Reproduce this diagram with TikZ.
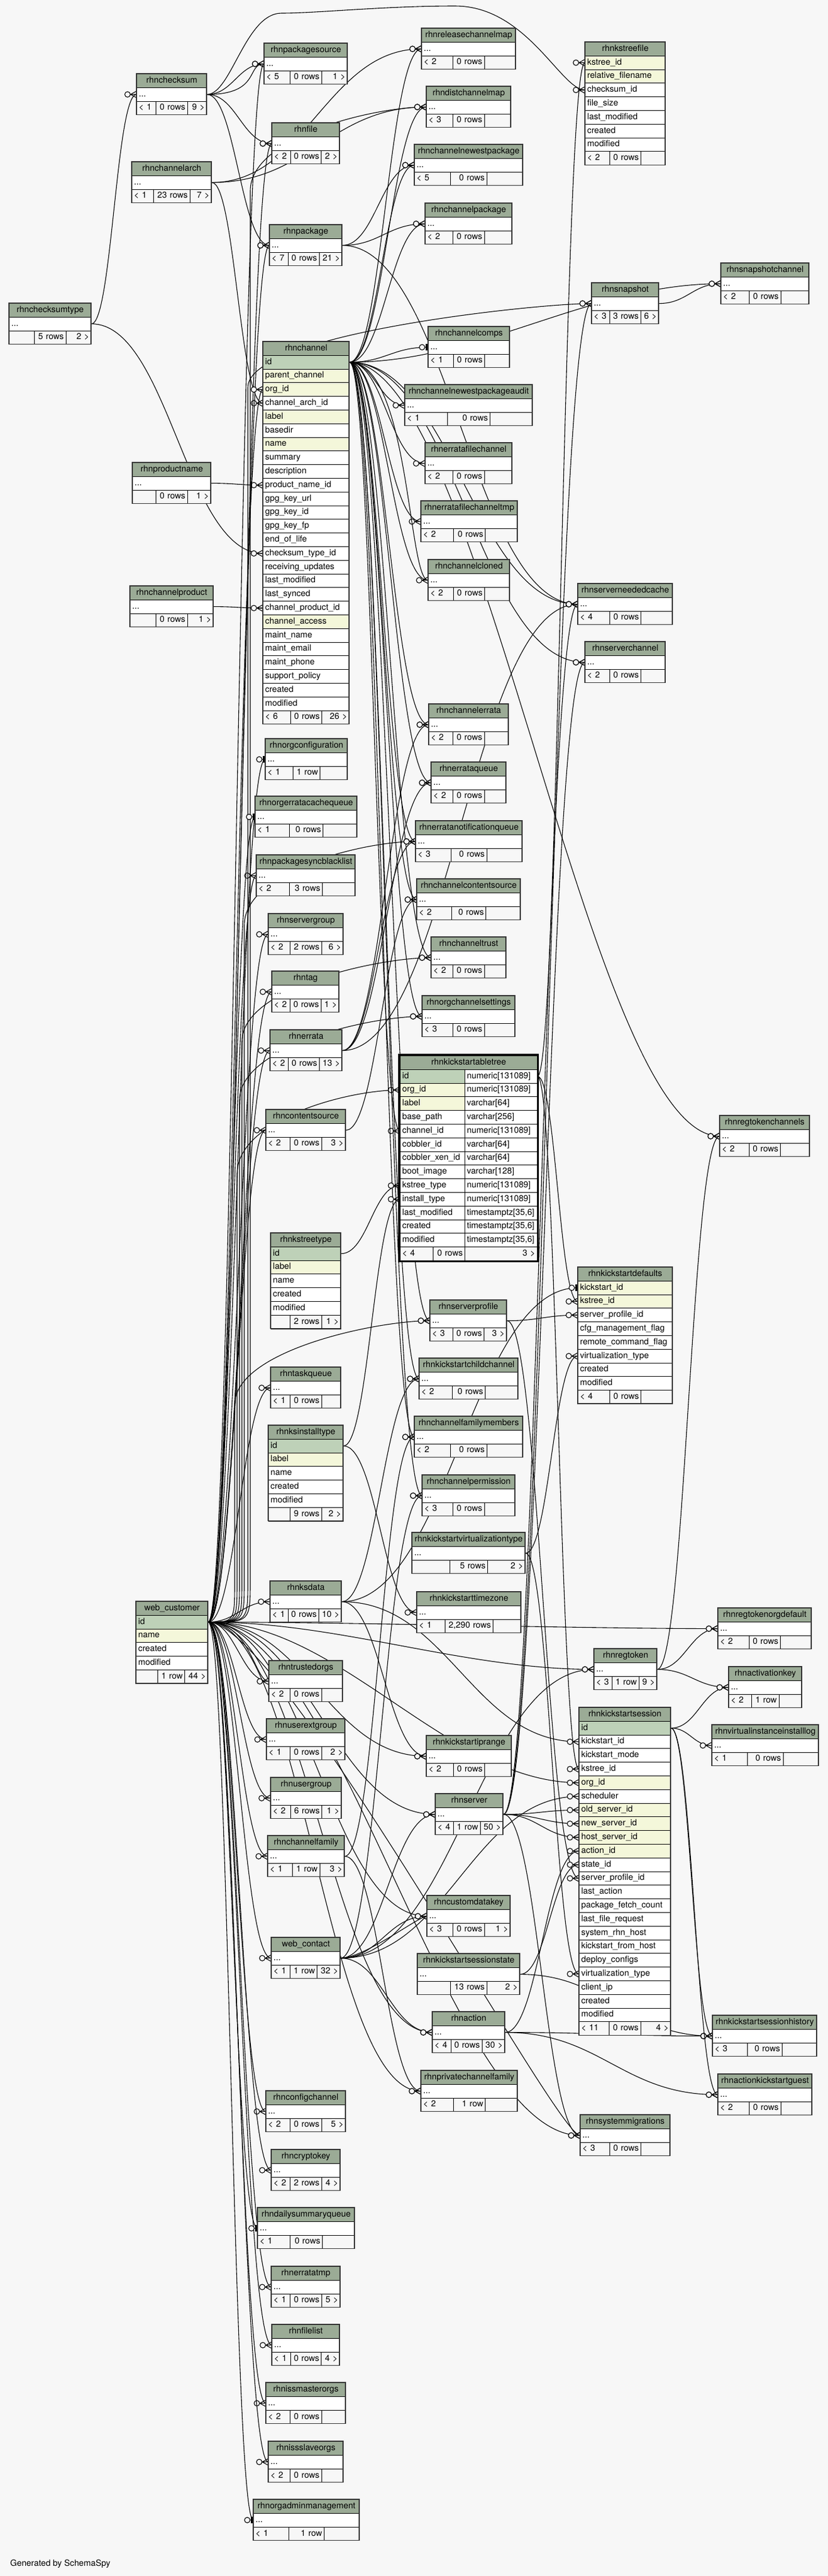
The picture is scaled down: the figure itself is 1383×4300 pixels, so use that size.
\documentclass[tikz,border=0pt]{standalone}
\usepackage{fontspec}
\setmainfont{TeX Gyre Heros}
\usetikzlibrary{calc}
\definecolor{bgc}{HTML}{F7F7F7}
\definecolor{hdr}{HTML}{9BAB96}
\definecolor{pkc}{HTML}{BED1B8}
\definecolor{idxc}{HTML}{F4F7DA}
\definecolor{brd}{HTML}{333333}
\pgfdeclarelayer{bglayer}
\pgfdeclarelayer{edgelayer}
\pgfsetlayers{bglayer,edgelayer,main}
\newcommand\tabfont{\fontsize{14.3}{17}\selectfont}
\def\RH{22.8}
\newcount\rowcnt
\tikzset{
  cellbase/.style={draw=black, line width=0.8pt, inner xsep=3.5pt, inner ysep=0pt,
    minimum height=\RH pt, text height=10.3pt, text depth=3.2pt, font=\tabfont, anchor=north west},
  outerb/.style={draw=brd, line width=1.4pt},
  fkline/.style={draw=black, line width=1.1pt},
  crowodot/.pic={
    \draw[fkline] (-10,0) -- (0,-5.5) (-10,0) -- (0,5.5) (-10,0) -- (0,0);
    \draw[fkline, fill=bgc] (-15,0) circle[radius=4.6];
  },
  teeodot/.pic={
    \draw[fkline] (-10,0) -- (0,0);
    \fill[black] (-4,-5.5) rectangle (-0.5,5.5);
    \draw[fkline, fill=bgc] (-10,0) circle[radius=4.6];
  },
}
\newcommand{\measure}[2]{%
  \node[font=\tabfont, inner sep=0pt, anchor=west] (msr) at (0,0) {\phantom{#2}};%
  \pgfpointdiff{\pgfpointanchor{msr}{west}}{\pgfpointanchor{msr}{east}}%
  \pgfgetlastxy{\wx}{\wy}%
  \pgfmathsetmacro#1{\wx+10}%
}
\newcommand{\cellnode}[7]{%
  \pgfmathsetmacro\tw{#5-7}%
  \node[cellbase, fill=#2, minimum width=#5 pt, text width=\tw pt, align=#6] (#1) at (#3,#4) {#7};%
}
\newcommand{\footcells}[7]{%
  \measure\na{#5}\measure\nb{#6}\measure\nc{#7}%
  \pgfmathsetmacro\fW{#4-#2}%
  \pgfmathsetmacro\mx{max(\na,\nb,\nc)}%
  \pgfmathsetmacro\mn{min(\na,\nb,\nc)}%
  \pgfmathsetmacro\md{\na+\nb+\nc-\mx-\mn}%
  \pgfmathsetmacro\LL{min(\fW/3,(\fW-\mx)/2,\fW-\mx-\md)}%
  \pgfmathsetmacro\ca{max(\na,\LL)}\pgfmathsetmacro\cb{max(\nb,\LL)}\pgfmathsetmacro\cc{max(\nc,\LL)}%
  \pgfmathsetmacro\scf{\fW/(\ca+\cb+\cc)}%
  \pgfmathsetmacro\ca{\ca*\scf}\pgfmathsetmacro\cb{\cb*\scf}\pgfmathsetmacro\cc{\cc*\scf}%
  \pgfmathsetmacro\xa{#2+\ca}\pgfmathsetmacro\xb{\xa+\cb}%
  \cellnode{#1-fl}{bgc}{#2}{#3}{\ca}{left}{#5}%
  \cellnode{#1-fm}{bgc}{\xa}{#3}{\cb}{right}{#6}%
  \cellnode{#1-fr}{bgc}{\xb}{#3}{\cc}{right}{#7}%
}
\newcommand{\ctab}[8]{%
  \pgfmathsetmacro\W{#5-#3}%
  \pgfmathsetmacro\yr{#4+\RH}\pgfmathsetmacro\yf{#4+2*\RH}\pgfmathsetmacro\yb{#4+3*\RH}%
  \cellnode{#1-h}{hdr}{#3}{#4}{\W}{center}{#2}%
  \cellnode{#1}{white}{#3}{\yr}{\W}{left}{...}%
  \footcells{#1}{#3}{\yf}{#5}{#6}{#7}{#8}%
  \draw[outerb] (#3,#4) rectangle (#5,\yb);%
}
\newcommand{\etab}[9]{%
  \pgfmathsetmacro\W{#5-#3}%
  \cellnode{#1-h}{hdr}{#3}{#4}{\W}{center}{#2}%
  \foreach \sty/\cn [count=\rr] in {#6} {%
    \pgfmathsetmacro\yr{#4+\rr*\RH}%
    \cellnode{#1-r\rr}{\sty}{#3}{\yr}{\W}{left}{\cn}%
    \global\rowcnt=\rr\relax
  }%
  \pgfmathsetmacro\yf{#4+(\the\rowcnt+1)*\RH}%
  \pgfmathsetmacro\yb{\yf+\RH}%
  \footcells{#1}{#3}{\yf}{#5}{#7}{#8}{#9}%
  \draw[outerb] (#3,#4) rectangle (#5,\yb);%
}
% connector with automatic control distance
\newcommand{\fk}[3][crowodot]{%
  \draw[fkline] let \p1=(#2.east), \p2=(#3.west), \n1={max(30,min(220,0.45*(\x2-\x1)))} in
    (\p1) .. controls +(\n1,0) and +(-\n1,0) .. (\p2);
  \pic at (#3.west) {#1};
}
% connector with given control distance
\newcommand{\fkd}[3]{%
  \draw[fkline] (#1.east) .. controls +(#3,0) and +(-#3/3,0) .. (#2.west);
}
% connector running up a vertical bundle at x=#4 before turning to the target
\newcommand{\fkb}[4][crowodot]{%
  \draw[fkline] let \p1=(#2.east), \p2=(#3.west) in
    (\p1) .. controls (#4pt,\y1) .. (#4pt,\y1+70pt) -- (#4pt,\y2-140pt)
    .. controls (#4pt,\y2-50pt) and (\x2-90pt,\y2) .. (\p2);
  \pic at (#3.west) {#1};
}
\begin{document}
\begin{tikzpicture}[x=1pt,y=-1pt]
\begin{pgfonlayer}{bglayer}
\fill[bgc] (0,0) rectangle (1383,4300);
\end{pgfonlayer}
\useasboundingbox (0,0) rectangle (1383,4300);

% ---------- left column ----------
\ctab{rhnchecksumtype}{rhnchecksumtype}{15}{506}{152}{}{5 rows}{2 >}
\ctab{rhnchecksum}{rhnchecksum}{228}{123}{345}{< 1}{0 rows}{9 >}
\ctab{rhnchannelarch}{rhnchannelarch}{220}{270}{353}{< 1}{23 rows}{7 >}
\ctab{rhnproductname}{rhnproductname}{221}{772}{352}{}{0 rows}{1 >}
\ctab{rhnchannelproduct}{rhnchannelproduct}{217}{978}{356}{}{0 rows}{1 >}
\etab{webcustomer}{web\_customer}{227}{2673}{347}{pkc/id,idxc/name,white/created,white/modified}{}{1 row}{44 >}

% ---------- middle-left column ----------
\ctab{rhnpackagesource}{rhnpackagesource}{441}{72}{580}{< 5}{0 rows}{1 >}
\ctab{rhnfile}{rhnfile}{454}{205}{567}{< 2}{0 rows}{2 >}
\ctab{rhnpackage}{rhnpackage}{450}{375}{571}{< 7}{0 rows}{21 >}
\etab{rhnchannel}{rhnchannel}{439}{570}{583}{pkc/id,idxc/parent\_channel,idxc/org\_id,white/channel\_arch\_id,idxc/label,white/basedir,idxc/name,white/summary,white/description,white/product\_name\_id,white/gpg\_key\_url,white/gpg\_key\_id,white/gpg\_key\_fp,white/end\_of\_life,white/checksum\_type\_id,white/receiving\_updates,white/last\_modified,white/last\_synced,white/channel\_product\_id,idxc/channel\_access,white/maint\_name,white/maint\_email,white/maint\_phone,white/support\_policy,white/created,white/modified}{< 6}{0 rows}{26 >}
\ctab{rhnorgconfiguration}{rhnorgconfiguration}{443}{1233}{580}{< 1}{1 row}{}
\ctab{rhnorgerratacachequeue}{rhnorgerratacachequeue}{426}{1329}{596}{< 1}{0 rows}{}
\ctab{rhnpackagesyncblacklist}{rhnpackagesyncblacklist}{428}{1427}{593}{< 2}{3 rows}{}
\ctab{rhnservergroup}{rhnservergroup}{448}{1525}{573}{< 2}{2 rows}{6 >}
\ctab{rhntag}{rhntag}{454}{1621}{566}{< 2}{0 rows}{1 >}
\ctab{rhnerrata}{rhnerrata}{451}{1719}{571}{< 2}{0 rows}{13 >}
\ctab{rhncontentsource}{rhncontentsource}{444}{1852}{577}{< 2}{0 rows}{3 >}
\etab{rhnkstreetype}{rhnkstreetype}{452}{2058}{569}{pkc/id,idxc/label,white/name,white/created,white/modified}{}{2 rows}{1 >}
\ctab{rhntaskqueue}{rhntaskqueue}{452}{2282}{569}{< 1}{0 rows}{}
\etab{rhnksinstalltype}{rhnksinstalltype}{448}{2379}{573}{pkc/id,idxc/label,white/name,white/created,white/modified}{}{9 rows}{2 >}
\ctab{rhnksdata}{rhnksdata}{451}{2639}{570}{< 1}{0 rows}{10 >}
\ctab{rhntrustedorgs}{rhntrustedorgs}{449}{2772}{572}{< 2}{0 rows}{}
\ctab{rhnuserextgroup}{rhnuserextgroup}{445}{2869}{576}{< 1}{0 rows}{2 >}
\ctab{rhnusergroup}{rhnusergroup}{452}{2967}{570}{< 2}{6 rows}{1 >}
\ctab{rhnchannelfamily}{rhnchannelfamily}{447}{3064}{575}{< 1}{1 row}{3 >}
\ctab{webcontact}{web\_contact}{453}{3234}{568}{< 1}{1 row}{32 >}
\ctab{rhnconfigchannel}{rhnconfigchannel}{444}{3490}{577}{< 2}{0 rows}{5 >}
\ctab{rhncryptokey}{rhncryptokey}{453}{3588}{568}{< 2}{2 rows}{4 >}
\ctab{rhndailysummaryqueue}{rhndailysummaryqueue}{430}{3685}{592}{< 1}{0 rows}{}
\ctab{rhnerratatmp}{rhnerratatmp}{453}{3783}{568}{< 1}{0 rows}{5 >}
\ctab{rhnfilelist}{rhnfilelist}{454}{3880}{567}{< 1}{0 rows}{4 >}
\ctab{rhnissmasterorgs}{rhnissmasterorgs}{444}{3977}{577}{< 2}{0 rows}{}
\ctab{rhnissslaveorgs}{rhnissslaveorgs}{448}{4075}{573}{< 2}{0 rows}{}
\ctab{rhnorgadminmanagement}{rhnorgadminmanagement}{423}{4172}{600}{< 1}{1 row}{}

% ---------- middle-right column ----------
\ctab{rhnreleasechannelmap}{rhnreleasechannelmap}{704}{47}{861}{< 2}{0 rows}{}
\ctab{rhndistchannelmap}{rhndistchannelmap}{712}{144}{853}{< 3}{0 rows}{}
\ctab{rhnchannelnewestpackage}{rhnchannelnewestpackage}{692}{241}{873}{< 5}{0 rows}{}
\ctab{rhnchannelpackage}{rhnchannelpackage}{710}{339}{855}{< 2}{0 rows}{}
\ctab{rhnchannelcomps}{rhnchannelcomps}{715}{545}{851}{< 1}{0 rows}{}
\ctab{rhnchannelnewestpackageaudit}{rhnchannelnewestpackageaudit}{676}{642}{889}{< 1}{0 rows}{}
\ctab{rhnerratafilechannel}{rhnerratafilechannel}{710}{739}{855}{< 2}{0 rows}{}
\ctab{rhnerratafilechanneltmp}{rhnerratafilechanneltmp}{703}{836}{864}{< 2}{0 rows}{}
\ctab{rhnchannelcloned}{rhnchannelcloned}{715}{934}{851}{< 2}{0 rows}{}
\ctab{rhnchannelerrata}{rhnchannelerrata}{716}{1175}{849}{< 2}{0 rows}{}
\ctab{rhnerrataqueue}{rhnerrataqueue}{720}{1272}{845}{< 2}{0 rows}{}
\ctab{rhnerratanotificationqueue}{rhnerratanotificationqueue}{694}{1370}{872}{< 3}{0 rows}{}
\ctab{rhnchannelcontentsource}{rhnchannelcontentsource}{696}{1467}{869}{< 2}{0 rows}{}
\ctab{rhnchanneltrust}{rhnchanneltrust}{720}{1564}{845}{< 2}{0 rows}{}
\ctab{rhnorgchannelsettings}{rhnorgchannelsettings}{705}{1662}{860}{< 3}{0 rows}{}
\ctab{rhnserverprofile}{rhnserverprofile}{718}{2170}{846}{< 3}{0 rows}{3 >}
\ctab{rhnkickstartchildchannel}{rhnkickstartchildchannel}{700}{2267}{865}{< 2}{0 rows}{}
\ctab{rhnchannelfamilymembers}{rhnchannelfamilymembers}{692}{2364}{873}{< 2}{0 rows}{}
\ctab{rhnchannelpermission}{rhnchannelpermission}{705}{2462}{860}{< 3}{0 rows}{}
\ctab{rhnkickstartvirtualizationtype}{rhnkickstartvirtualizationtype}{688}{2558}{877}{}{5 rows}{2 >}
\ctab{rhnkickstarttimezone}{rhnkickstarttimezone}{696}{2657}{870}{< 1}{2,290 rows}{}
\ctab{rhnkickstartiprange}{rhnkickstartiprange}{712}{2897}{854}{< 2}{0 rows}{}
\ctab{rhnserver}{rhnserver}{727}{2994}{840}{< 4}{1 row}{50 >}
\ctab{rhncustomdatakey}{rhncustomdatakey}{713}{3164}{852}{< 3}{0 rows}{1 >}
\ctab{rhnkickstartsessionstate}{rhnkickstartsessionstate}{697}{3261}{868}{}{13 rows}{2 >}
\ctab{rhnaction}{rhnaction}{722}{3358}{843}{< 4}{0 rows}{30 >}
\ctab{rhnprivatechannelfamily}{rhnprivatechannelfamily}{703}{3456}{864}{< 2}{1 row}{}

% focus table
\cellnode{rhnkickstartabletree-h}{hdr}{668}{1762}{229}{center}{rhnkickstartabletree}
\foreach \sty/\cn/\ty [count=\rr] in {pkc/id/{numeric[131089]},idxc/org\_id/{numeric[131089]},idxc/label/{varchar[64]},white/base\_path/{varchar[256]},white/channel\_id/{numeric[131089]},white/cobbler\_id/{varchar[64]},white/cobbler\_xen\_id/{varchar[64]},white/boot\_image/{varchar[128]},white/kstree\_type/{numeric[131089]},white/install\_type/{numeric[131089]},white/last\_modified/{timestamptz[35,6]},white/created/{timestamptz[35,6]},white/modified/{timestamptz[35,6]}}{%
  \pgfmathsetmacro\yr{1762+\rr*\RH}%
  \cellnode{rhnkickstartabletree-r\rr}{\sty}{668}{\yr}{108}{left}{\cn}%
  \cellnode{rhnkickstartabletree-t\rr}{white}{776}{\yr}{121}{left}{\ty}%
}
\pgfmathsetmacro\yf{1762+14*\RH}
\cellnode{rhnkickstartabletree-fl}{bgc}{668}{\yf}{55}{left}{< 4}
\cellnode{rhnkickstartabletree-fm}{bgc}{723}{\yf}{53}{right}{0 rows}
\cellnode{rhnkickstartabletree-fr}{bgc}{776}{\yf}{121}{right}{3 >}
\draw[line width=3pt] (666.5,1760.5) rectangle (898.5,2105.5);

% ---------- right column ----------
\etab{rhnkstreefile}{rhnkstreefile}{977}{70}{1111}{idxc/kstree\_id,idxc/relative\_filename,white/checksum\_id,white/file\_size,white/last\_modified,white/created,white/modified}{< 2}{0 rows}{}
\ctab{rhnsnapshot}{rhnsnapshot}{988}{472}{1100}{< 3}{3 rows}{6 >}
\ctab{rhnsnapshotchannel}{rhnsnapshotchannel}{1204}{439}{1351}{< 2}{0 rows}{}
\ctab{rhnserverneededcache}{rhnserverneededcache}{965}{974}{1123}{< 4}{0 rows}{}
\ctab{rhnserverchannel}{rhnserverchannel}{977}{1071}{1111}{< 2}{0 rows}{}
\ctab{rhnregtokenchannels}{rhnregtokenchannels}{1202}{1862}{1352}{< 2}{0 rows}{}
\etab{rhnkickstartdefaults}{rhnkickstartdefaults}{965}{2115}{1123}{idxc/kickstart\_id,idxc/kstree\_id,white/server\_profile\_id,white/cfg\_management\_flag,white/remote\_command\_flag,white/virtualization\_type,white/created,white/modified}{< 4}{0 rows}{}
\ctab{rhnregtokenorgdefault}{rhnregtokenorgdefault}{1199}{2684}{1355}{< 2}{0 rows}{}
\ctab{rhnregtoken}{rhnregtoken}{992}{2752}{1097}{< 3}{1 row}{9 >}
\ctab{rhnactivationkey}{rhnactivationkey}{1217}{2782}{1339}{< 2}{1 row}{}
\etab{rhnkickstartsession}{rhnkickstartsession}{967}{2850}{1120}{pkc/id,white/kickstart\_id,white/kickstart\_mode,white/kstree\_id,idxc/org\_id,white/scheduler,idxc/old\_server\_id,idxc/new\_server\_id,idxc/host\_server\_id,idxc/action\_id,white/state\_id,white/server\_profile\_id,white/last\_action,white/package\_fetch\_count,white/last\_file\_request,white/system\_rhn\_host,white/kickstart\_from\_host,white/deploy\_configs,white/virtualization\_type,white/client\_ip,white/created,white/modified}{< 11}{0 rows}{4 >}
\ctab{rhnvirtualinstanceinstalllog}{rhnvirtualinstanceinstalllog}{1189}{2879}{1367}{< 1}{0 rows}{}
\ctab{rhnkickstartsessionhistory}{rhnkickstartsessionhistory}{1190}{3364}{1364}{< 3}{0 rows}{}
\ctab{rhnactionkickstartguest}{rhnactionkickstartguest}{1199}{3462}{1356}{< 2}{0 rows}{}
\ctab{rhnsystemmigrations}{rhnsystemmigrations}{969}{3530}{1119}{< 3}{0 rows}{}

\node[font=\tabfont, anchor=base west, inner sep=0pt] (generated) at (17,4283) {Generated by SchemaSpy};

% ---------- connectors ----------
\begin{pgfonlayer}{edgelayer}
\fk{rhnchecksumtype}{rhnchecksum}
\fk{rhnchecksumtype}{rhnchannel-r15}
\foreach \tg in {rhnpackagesource,rhnfile,rhnpackage}{\fk{rhnchecksum}{\tg}}
\fkd{rhnchecksum}{rhnpackagesource}{90}
\draw[fkline] (rhnchecksum.east) .. controls +(40,0) and +(-60,0) .. (470,22) .. controls +(60,0) and +(-120,0) .. (760,10) .. controls +(120,0) and +(-40,0) .. (rhnkstreefile-r3.west);
\pic at (rhnkstreefile-r3.west) {crowodot};
\foreach \tg in {rhnchannel-r4,rhndistchannelmap,rhnreleasechannelmap}{\fk{rhnchannelarch}{\tg}}
\fk{rhnproductname}{rhnchannel-r10}
\fk{rhnchannelproduct}{rhnchannel-r19}
% web_customer
\foreach \tg in {rhnpackagesource,rhnfile,rhnpackage,rhnchannel-r3,rhnpackagesyncblacklist,rhnservergroup,rhntag,rhnerrata,rhncontentsource,rhntaskqueue,rhnksdata,rhntrustedorgs,rhnuserextgroup,rhnusergroup,rhnchannelfamily,webcontact,rhnconfigchannel,rhncryptokey,rhnerratatmp,rhnfilelist,rhnissmasterorgs,rhnissslaveorgs,rhnkickstartsession-r5,rhnregtoken,rhnregtokenorgdefault,rhnserver,rhncustomdatakey,rhnaction,rhnprivatechannelfamily,rhnsystemmigrations,rhnkickstartiprange}{\fk{webcustomer-r1}{\tg}}
\foreach \tg/\bx in {rhndistchannelmap/418,rhnsnapshot/414,rhnerratanotificationqueue/408,rhnchanneltrust/404,rhnorgchannelsettings/400,rhnkickstartabletree-r2/396,rhnserverprofile/392}{\fkb{webcustomer-r1}{\tg}{\bx}}
\foreach \tg in {rhnorgconfiguration,rhnorgerratacachequeue,rhndailysummaryqueue,rhnorgadminmanagement}{\fk[teeodot]{webcustomer-r1}{\tg}}
\fkd{webcustomer-r1}{rhntrustedorgs}{70}
\fkd{webcustomer-r1}{rhnsystemmigrations}{120}
% rhnchannel
\foreach \tg in {rhnreleasechannelmap,rhndistchannelmap,rhnchannelnewestpackage,rhnchannelpackage,rhnsnapshotchannel,rhnchannelnewestpackageaudit,rhnerratafilechannel,rhnerratafilechanneltmp,rhnchannelcloned,rhnserverneededcache,rhnserverchannel,rhnchannelerrata,rhnerrataqueue,rhnerratanotificationqueue,rhnchannelcontentsource,rhnchanneltrust,rhnorgchannelsettings,rhnkickstartabletree-r5,rhnregtokenchannels,rhnserverprofile,rhnkickstartchildchannel,rhnchannelfamilymembers,rhnchannelpermission}{\fk{rhnchannel-r1}{\tg}}
\fkd{rhnchannel-r1}{rhnchannelcloned}{100}
\fk[teeodot]{rhnchannel-r1}{rhnchannelcomps}
\foreach \tg in {rhnchannelnewestpackage,rhnchannelpackage,rhnserverneededcache}{\fk{rhnpackage}{\tg}}
\foreach \tg in {rhnserverneededcache,rhnchannelerrata,rhnerrataqueue,rhnerratanotificationqueue}{\fk{rhnerrata}{\tg}}
\fk{rhncontentsource}{rhnchannelcontentsource}
\foreach \tg in {rhnkstreefile-r1,rhnkickstartdefaults-r2,rhnkickstartsession-r4}{\fk{rhnkickstartabletree-t1}{\tg}}
\fk{rhnkstreetype-r1}{rhnkickstartabletree-r9}
\fk{rhnksinstalltype-r1}{rhnkickstartabletree-r10}
\fk{rhnksinstalltype-r1}{rhnkickstarttimezone}
\fk[teeodot]{rhnksdata}{rhnkickstartdefaults-r1}
\foreach \tg in {rhnkickstartchildchannel,rhnkickstartiprange,rhnkickstartsession-r2}{\fk{rhnksdata}{\tg}}
\fk{rhnserverprofile}{rhnkickstartdefaults-r3}
\fk{rhnserverprofile}{rhnkickstartsession-r12}
\fk{rhnkickstartvirtualizationtype}{rhnkickstartdefaults-r6}
\fk{rhnkickstartvirtualizationtype}{rhnkickstartsession-r19}
\fk{rhnchannelfamily}{rhnchannelfamilymembers}
\fk{rhnchannelfamily}{rhnprivatechannelfamily}
\foreach \tg in {rhnchannelpermission,rhnserver,rhncustomdatakey,rhnkickstartsession-r6,rhnaction,rhnregtoken}{\fk{webcontact}{\tg}}
\fkd{webcontact}{rhncustomdatakey}{40}
\foreach \tg in {rhnsnapshot,rhnserverneededcache,rhnserverchannel,rhnkickstartsession-r7,rhnkickstartsession-r8,rhnkickstartsession-r9,rhnsystemmigrations}{\fk{rhnserver}{\tg}}
\foreach \tg in {rhnkickstartsession-r10,rhnkickstartsessionhistory,rhnactionkickstartguest}{\fk{rhnaction}{\tg}}
\fk{rhnkickstartsessionstate}{rhnkickstartsession-r11}
\fk{rhnkickstartsessionstate}{rhnkickstartsessionhistory}
\foreach \tg in {rhnregtokenchannels,rhnregtokenorgdefault,rhnactivationkey}{\fk{rhnregtoken}{\tg}}
\foreach \tg in {rhnactivationkey,rhnvirtualinstanceinstalllog,rhnkickstartsessionhistory,rhnactionkickstartguest}{\fk{rhnkickstartsession-r1}{\tg}}
\fk{rhnsnapshot}{rhnsnapshotchannel}
\end{pgfonlayer}
\end{tikzpicture}
\end{document}
